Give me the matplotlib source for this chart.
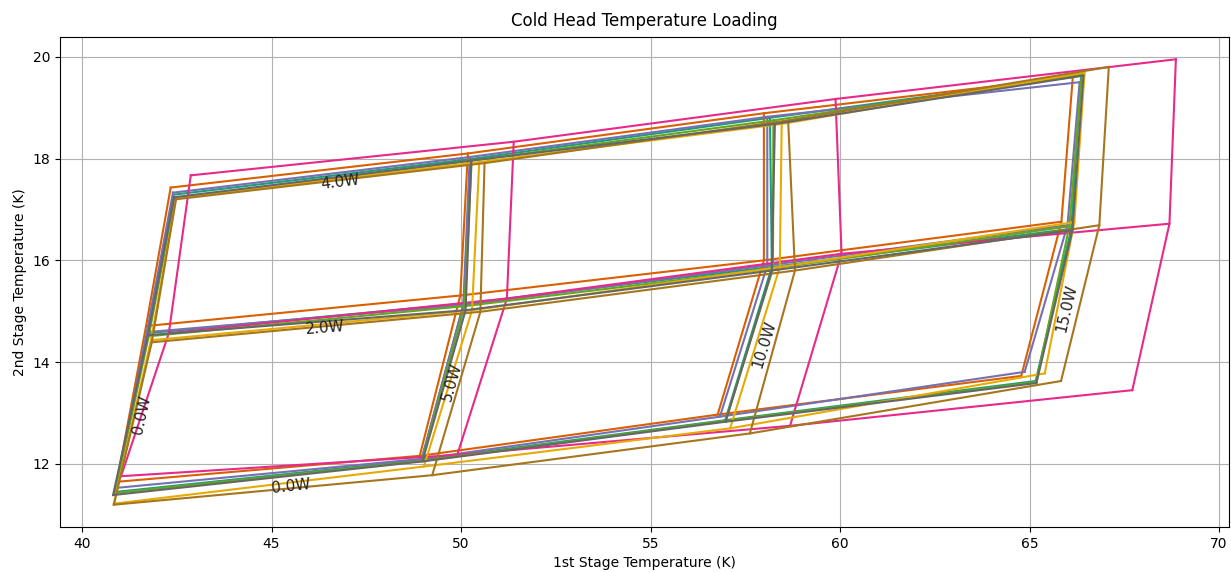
import matplotlib
matplotlib.use('Agg')
import matplotlib.pyplot as plt
import numpy as np

# stage loads: rows are 2nd stage load, columns are 1st stage load
q1_loads = [0.0, 5.0, 10.0, 15.0]
q2_loads = [0.0, 2.0, 4.0]

# 1st stage temperature (K) for each run
t1_teal = [[40.87, 48.96, 56.97, 65.16], [41.74, 50.07, 58.20, 66.10], [42.41, 50.25, 58.15, 66.36]]
t1_orange = [[40.92, 48.91, 56.77, 64.78], [41.69, 49.98, 57.99, 65.84], [42.34, 50.18, 57.99, 66.14]]
t1_purple = [[40.90, 48.96, 56.83, 64.87], [41.71, 50.06, 58.08, 66.00], [42.40, 50.23, 58.08, 66.32]]
t1_pink = [[41.03, 49.90, 58.68, 67.71], [42.29, 51.21, 60.04, 68.69], [42.87, 51.39, 59.88, 68.86]]
t1_green = [[40.87, 48.97, 56.98, 65.18], [41.76, 50.09, 58.23, 66.05], [42.45, 50.28, 58.24, 66.38]]
t1_yellow = [[40.84, 49.02, 57.10, 65.40], [41.82, 50.29, 58.41, 66.18], [42.48, 50.48, 58.46, 66.45]]
t1_brown = [[40.84, 49.24, 57.62, 65.83], [41.84, 50.51, 58.81, 66.84], [42.48, 50.62, 58.63, 67.09]]
t1_gray = [[40.82, 48.98, 56.98, 65.18], [41.74, 50.12, 58.20, 66.13], [42.43, 50.27, 58.28, 66.42]]

# 2nd stage temperature (K) for each run
t2_teal = [[11.45, 12.08, 12.86, 13.63], [14.57, 15.15, 15.87, 16.62], [17.29, 17.99, 18.80, 19.63]]
t2_orange = [[11.65, 12.16, 12.97, 13.73], [14.71, 15.31, 16.00, 16.76], [17.43, 18.10, 18.89, 19.60]]
t2_purple = [[11.53, 12.10, 12.93, 13.81], [14.59, 15.12, 15.90, 16.69], [17.33, 18.03, 18.82, 19.50]]
t2_pink = [[11.76, 12.18, 12.75, 13.45], [14.57, 15.25, 16.13, 16.72], [17.67, 18.33, 19.17, 19.95]]
t2_green = [[11.43, 12.06, 12.85, 13.61], [14.51, 15.10, 15.84, 16.67], [17.22, 17.96, 18.75, 19.65]]
t2_yellow = [[11.22, 11.95, 12.70, 13.78], [14.43, 15.02, 15.87, 16.75], [17.22, 17.93, 18.68, 19.69]]
t2_brown = [[11.20, 11.78, 12.60, 13.63], [14.39, 14.99, 15.80, 16.69], [17.20, 17.91, 18.75, 19.80]]
t2_gray = [[11.39, 12.05, 12.83, 13.59], [14.53, 15.02, 15.80, 16.59], [17.24, 17.96, 18.68, 19.63]]

runs = [(t1_teal, t2_teal), (t1_orange, t2_orange), (t1_purple, t2_purple), (t1_pink, t2_pink),
        (t1_green, t2_green), (t1_yellow, t2_yellow), (t1_brown, t2_brown), (t1_gray, t2_gray)]
colors = plt.cm.Dark2(np.arange(8))

fig = plt.figure(figsize=(12.31, 5.72), dpi=100)
ax = fig.add_axes([0.0487, 0.0787, 0.9497, 0.8566])

for (t1, t2), c in zip(runs, colors):
    t1 = np.array(t1)
    t2 = np.array(t2)
    # constant 2nd stage load lines
    for i in range(len(q2_loads)):
        ax.plot(t1[i], t2[i], color=c, lw=1.5)
    # constant 1st stage load lines
    for j in range(len(q1_loads)):
        ax.plot(t1[:, j], t2[:, j], color=c, lw=1.5)

# load labels, rotated along the gray run
ref1 = np.array(t1_gray)
ref2 = np.array(t2_gray)
q2_pos = [(45.51, 11.55), (46.40, 14.67), (46.82, 17.53)]
for i, q in enumerate(q2_loads):
    ang = np.degrees(np.arctan2(ref2[i, 1] - ref2[i, 0], ref1[i, 1] - ref1[i, 0]))
    ax.text(q2_pos[i][0], q2_pos[i][1], str(q) + 'W', rotation=ang, transform_rotates_text=True,
            rotation_mode='anchor', ha='center', va='center', fontsize=11, color='#222222')
q1_pos = [(41.58, 12.96), (49.77, 13.61), (57.99, 14.35), (65.97, 15.06)]
for j, q in enumerate(q1_loads):
    ang = np.degrees(np.arctan2(ref2[1, j] - ref2[0, j], ref1[1, j] - ref1[0, j]))
    ax.text(q1_pos[j][0], q1_pos[j][1], str(q) + 'W', rotation=ang, transform_rotates_text=True,
            rotation_mode='anchor', ha='center', va='center', fontsize=11, color='#222222')

ax.set_title('Cold Head Temperature Loading', pad=8)
ax.set_xlabel('1st Stage Temperature (K)')
ax.set_ylabel('2nd Stage Temperature (K)')
ax.grid(True)
ax.set_axisbelow(True)

plt.savefig('out.png', dpi=100)
